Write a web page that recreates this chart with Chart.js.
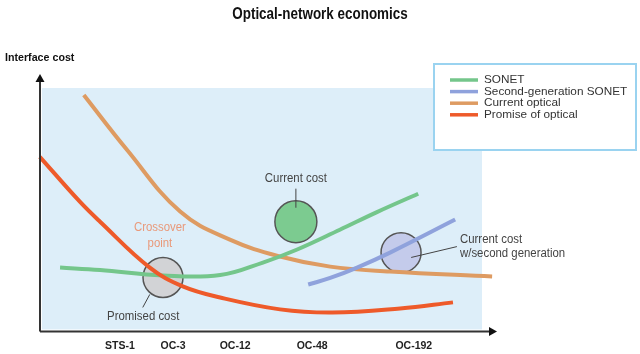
<!DOCTYPE html>
<html>
<head>
<meta charset="utf-8">
<script src="https://cdn.jsdelivr.net/npm/chart.js@4.4.1/dist/chart.umd.min.js"></script>
<style>
  html, body { margin: 0; padding: 0; background: #fff; }
  canvas { display: block; }
</style>
</head>
<body>
<canvas id="chart" width="640" height="354"></canvas>
<script>
// x axis: relative bandwidth position (0-100), y axis: relative interface cost (0-100)
const tickLabels = ['STS-1', 'OC-3', 'OC-12', 'OC-48', 'OC-192'];
const tickPos = [17.7, 29.8, 43.9, 61.4, 84.5];

const sonet = [[4.1, 25.6], [13.2, 24.6], [27.5, 22.3], [40.5, 22.5], [50.2, 27.7], [58, 33.1], [67.7, 41.3], [76, 48.5], [85.5, 56.2]];
const secondGen = [[60.5, 18.6], [65.5, 21.3], [71.6, 25.6], [79.1, 31.8], [93.9, 45.5]];
const currentOptical = [[9.5, 97.1], [19.3, 74.4], [31.4, 48.8], [42.7, 37.2], [54.1, 30.2], [65.5, 26.0], [79.1, 24.0], [102.3, 21.9]];
const promiseOptical = [[-0.5, 71.5], [8.6, 52.9], [13.2, 44.6], [24.5, 25.6], [32, 17.8], [40.5, 13.2], [54.1, 8.3], [66, 7.0], [81.4, 8.7], [93.4, 11.2]];

const seriesNames = ['SONET', 'Second-generation SONET', 'Current optical', 'Promise of optical'];
const seriesColors = ['#74c68b', '#8fa2dc', '#de9b62', '#ee5a2a'];

// cost circles
const promisedCost = [27.5, 21.5];
const currentCost = [57.7, 44.6];
const secondGenCost = [81.6, 31.8];

const notes = [
  { text: 'Crossover', x: 26.8, y: 42.1, color: '#e9997a', align: 'center' },
  { text: 'point', x: 26.8, y: 35.5, color: '#e9997a', align: 'center' },
  { text: 'Current cost', x: 57.7, y: 62.4, color: '#444', align: 'center' },
  { text: 'Promised cost', x: 23.0, y: 5.4, color: '#444', align: 'center' },
  { text: 'Current cost', x: 95.0, y: 37.2, color: '#444', align: 'left' },
  { text: 'w/second generation', x: 95.0, y: 31.4, color: '#444', align: 'left' }
];
const pointers = [
  [[57.7, 58.3], [57.7, 50.4]],
  [[24.5, 14.5], [22.9, 9.1]],
  [[83.9, 29.8], [94.3, 34.3]]
];

const fam = '"Liberation Sans", Arial, sans-serif';

function toXY(arr) {
  return arr.map(p => ({ x: p[0], y: p[1] }));
}

function lineSet(i, data) {
  return {
    label: seriesNames[i],
    data: toXY(data),
    borderColor: seriesColors[i],
    backgroundColor: seriesColors[i],
    borderWidth: 4,
    pointRadius: 0,
    fill: false,
    tension: 0.4,
    clip: false
  };
}

function bubble(pos, r, fill) {
  return {
    type: 'bubble',
    label: '',
    data: [{ x: pos[0], y: pos[1], r: r }],
    backgroundColor: fill,
    borderColor: '#555',
    borderWidth: 1.5
  };
}

// squeezed text, the original uses a condensed face
function narrowText(ctx, text, x, y, sx) {
  ctx.save();
  ctx.translate(x, y);
  ctx.scale(sx, 1);
  ctx.fillText(text, 0, 0);
  ctx.restore();
}

const decor = {
  id: 'decor',
  beforeDraw(chart) {
    const ctx = chart.ctx;
    const a = chart.chartArea;
    ctx.save();
    ctx.fillStyle = '#ddeef9';
    ctx.fillRect(a.left, a.top, a.right - a.left, a.bottom - a.top);
    ctx.restore();
  },
  afterDatasetsDraw(chart) {
    const ctx = chart.ctx;
    const a = chart.chartArea;
    const xs = chart.scales.x, ys = chart.scales.y;
    ctx.save();

    // axes with arrows
    ctx.strokeStyle = '#333';
    ctx.fillStyle = '#111';
    ctx.lineWidth = 2;
    const ox = a.left - 2, oy = a.bottom + 2;
    ctx.beginPath();
    ctx.moveTo(ox, oy);
    ctx.lineTo(ox, a.top - 8);
    ctx.moveTo(ox, oy);
    ctx.lineTo(a.right + 8, oy);
    ctx.stroke();
    ctx.beginPath();
    ctx.moveTo(ox, a.top - 14);
    ctx.lineTo(ox - 4.5, a.top - 6);
    ctx.lineTo(ox + 4.5, a.top - 6);
    ctx.closePath();
    ctx.fill();
    ctx.beginPath();
    ctx.moveTo(a.right + 15, oy);
    ctx.lineTo(a.right + 7, oy - 4.5);
    ctx.lineTo(a.right + 7, oy + 4.5);
    ctx.closePath();
    ctx.fill();

    // pointer lines
    ctx.strokeStyle = '#444';
    ctx.lineWidth = 1;
    pointers.forEach(p => {
      ctx.beginPath();
      ctx.moveTo(xs.getPixelForValue(p[0][0]), ys.getPixelForValue(p[0][1]));
      ctx.lineTo(xs.getPixelForValue(p[1][0]), ys.getPixelForValue(p[1][1]));
      ctx.stroke();
    });

    // notes
    ctx.textBaseline = 'middle';
    ctx.font = '12px ' + fam;
    notes.forEach(n => {
      ctx.fillStyle = n.color;
      ctx.textAlign = n.align;
      narrowText(ctx, n.text, xs.getPixelForValue(n.x), ys.getPixelForValue(n.y), 0.95);
    });

    // title + axis title
    ctx.fillStyle = '#111';
    ctx.textAlign = 'center';
    ctx.font = 'bold 16px ' + fam;
    narrowText(ctx, 'Optical-network economics', 320, 15, 0.84);
    ctx.textAlign = 'left';
    ctx.font = 'bold 11px ' + fam;
    narrowText(ctx, 'Interface cost', 5, 58, 0.97);

    // legend box
    ctx.strokeStyle = '#9ad3f0';
    ctx.lineWidth = 2;
    ctx.fillStyle = '#fff';
    ctx.beginPath();
    ctx.rect(434, 64, 202, 86);
    ctx.fill();
    ctx.stroke();
    ctx.font = '11px ' + fam;
    ctx.textAlign = 'left';
    seriesNames.forEach((name, i) => {
      const y = 80 + i * 11.6;
      ctx.strokeStyle = seriesColors[i];
      ctx.lineWidth = 3.5;
      ctx.beginPath();
      ctx.moveTo(450, y);
      ctx.lineTo(478, y);
      ctx.stroke();
      ctx.fillStyle = '#333';
      narrowText(ctx, name, 484, y, 1.07);
    });
    ctx.restore();
  }
};

new Chart(document.getElementById('chart'), {
  type: 'line',
  data: {
    datasets: [
      lineSet(3, promiseOptical),
      lineSet(0, sonet),
      lineSet(1, secondGen),
      lineSet(2, currentOptical),
      bubble(promisedCost, 20, '#d2d3d6'),
      bubble(currentCost, 21, '#7ccb90'),
      bubble(secondGenCost, 20, '#c4cbeb')
    ]
  },
  options: {
    responsive: false,
    animation: false,
    devicePixelRatio: 1,
    layout: { padding: { left: 42, right: 158, top: 88, bottom: -8 } },
    plugins: {
      legend: { display: false },
      title: { display: false },
      tooltip: { enabled: false }
    },
    scales: {
      x: {
        type: 'linear',
        min: 0,
        max: 100,
        grid: { display: false, drawTicks: false },
        border: { display: false },
        afterBuildTicks: (scale) => {
          scale.ticks = tickPos.map(v => ({ value: v }));
        },
        ticks: {
          autoSkip: false,
          maxRotation: 0,
          padding: 10,
          color: '#222',
          font: { family: fam, size: 10.5, weight: 'bold' },
          callback: (value, index) => tickLabels[index]
        }
      },
      y: {
        type: 'linear',
        min: 0,
        max: 100,
        display: false
      }
    }
  },
  plugins: [decor]
});
</script>
</body>
</html>
